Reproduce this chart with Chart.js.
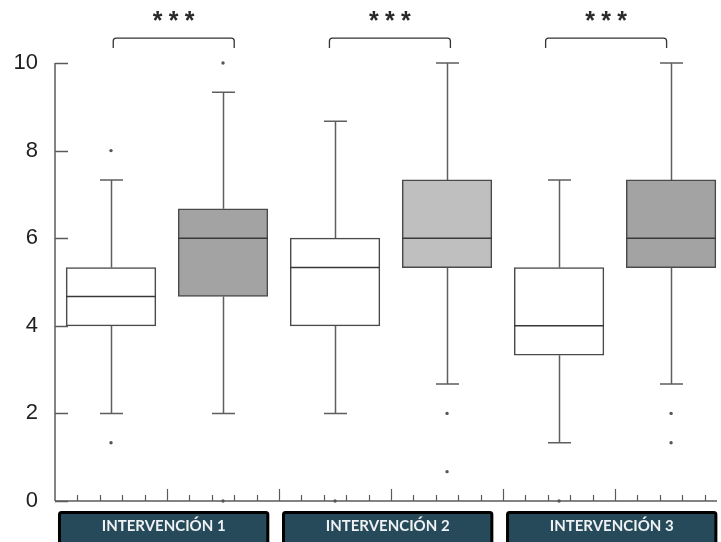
<!DOCTYPE html>
<html>
<head>
<meta charset="utf-8">
<script src="https://cdn.jsdelivr.net/npm/chart.js@4.4.1/dist/chart.umd.min.js"></script>
<style>
  html, body { margin: 0; padding: 0; background: #ffffff; }
  #wrap { width: 721px; height: 542px; }
</style>
</head>
<body>
<div id="wrap"><canvas id="c" width="721" height="542"></canvas></div>
<script>
// Groups and the two boxes drawn for each group
const groups = ['INTERVENCIÓN 1', 'INTERVENCIÓN 2', 'INTERVENCIÓN 3'];
const boxPositions = [0.5, 1.5, 2.5, 3.5, 4.5, 5.5];

// Five-number summaries per box
const whiskerLow  = [2.00, 2.00, 2.00, 2.67, 1.33, 2.67];
const q1          = [4.00, 4.67, 4.00, 5.33, 3.33, 5.33];
const median      = [4.67, 6.00, 5.33, 6.00, 4.00, 6.00];
const q3          = [5.33, 6.67, 6.00, 7.33, 5.33, 7.33];
const whiskerHigh = [7.33, 9.33, 8.67, 10.0, 7.33, 10.0];

// Outlying observations per box
const outliers = [[1.33, 8], [0, 10], [0], [0.67, 2], [0], [1.33, 2]];

// Axis tick labels and significance markers
const yTicks = [0, 2, 4, 6, 8, 10];
const significance = ['***', '***', '***'];

// Styling
const boxFill = ['#ffffff', '#a3a3a3', '#ffffff', '#bfbfbf', '#ffffff', '#a3a3a3'];
const brackets = [
  { from: 0.52, to: 1.60 },
  { from: 2.45, to: 3.53 },
  { from: 4.38, to: 5.46 }
];

const outlierPoints = [];
outliers.forEach((vals, i) => vals.forEach(v => outlierPoints.push({ x: boxPositions[i], y: v })));

const boxPlotPlugin = {
  id: 'boxPlotParts',
  beforeDatasetsDraw(chart) {
    const ctx = chart.ctx;
    const xs = chart.scales.x, ys = chart.scales.y;
    const area = chart.chartArea;
    const left = area.left, bottom = ys.getPixelForValue(0), top = ys.getPixelForValue(10);
    ctx.save();
    ctx.strokeStyle = '#5a5a5a';
    ctx.lineWidth = 1.5;
    // y axis
    ctx.beginPath();
    ctx.moveTo(left, top);
    ctx.lineTo(left, bottom);
    ctx.stroke();
    // x axis
    ctx.beginPath();
    ctx.moveTo(left, bottom);
    ctx.lineTo(area.right, bottom);
    ctx.stroke();
    // y ticks, inward
    ctx.fillStyle = '#1f1f1f';
    ctx.font = '22px "Liberation Sans", Arial, sans-serif';
    ctx.textAlign = 'right';
    ctx.textBaseline = 'middle';
    yTicks.forEach(t => {
      const y = Math.round(ys.getPixelForValue(t)) + 0.5;
      ctx.beginPath();
      ctx.moveTo(left, y);
      ctx.lineTo(left + 13, y);
      ctx.stroke();
      ctx.fillText(String(t), left - 17, y - 1);
    });
    // x ticks, inward
    ctx.lineWidth = 1.2;
    for (let k = 1; k * 0.2 < xs.max; k++) {
      const major = k % 5 === 0;
      const x = Math.round(xs.getPixelForValue(k * 0.2)) + 0.5;
      ctx.beginPath();
      ctx.moveTo(x, bottom);
      ctx.lineTo(x, bottom - (major ? 12 : 6));
      ctx.stroke();
    }
    // whiskers
    ctx.strokeStyle = '#5e5e5e';
    ctx.lineWidth = 1.5;
    boxPositions.forEach((p, i) => {
      const x = Math.round(xs.getPixelForValue(p)) + 0.5;
      const capHalf = 11.5;
      const yl = ys.getPixelForValue(whiskerLow[i]);
      const yq1 = ys.getPixelForValue(q1[i]);
      const yq3 = ys.getPixelForValue(q3[i]);
      const yh = ys.getPixelForValue(whiskerHigh[i]);
      ctx.beginPath();
      ctx.moveTo(x, yq1); ctx.lineTo(x, yl);
      ctx.moveTo(x - capHalf, yl); ctx.lineTo(x + capHalf, yl);
      ctx.moveTo(x, yq3); ctx.lineTo(x, yh);
      ctx.moveTo(x - capHalf, yh); ctx.lineTo(x + capHalf, yh);
      ctx.stroke();
    });
    ctx.restore();
  },
  afterDatasetsDraw(chart) {
    const ctx = chart.ctx;
    const xs = chart.scales.x, ys = chart.scales.y;
    const bottom = ys.getPixelForValue(0);
    ctx.save();
    // medians
    const meta = chart.getDatasetMeta(0);
    ctx.strokeStyle = '#383838';
    ctx.lineWidth = 1.5;
    meta.data.forEach((bar, i) => {
      const half = bar.width / 2;
      const y = ys.getPixelForValue(median[i]);
      ctx.beginPath();
      ctx.moveTo(bar.x - half, y);
      ctx.lineTo(bar.x + half, y);
      ctx.stroke();
    });
    // significance brackets
    ctx.strokeStyle = '#333333';
    ctx.lineWidth = 1.3;
    brackets.forEach((b, i) => {
      const x1 = xs.getPixelForValue(b.from), x2 = xs.getPixelForValue(b.to);
      const yTop = ys.getPixelForValue(10.57), yLeg = ys.getPixelForValue(10.34);
      ctx.beginPath();
      ctx.moveTo(x1, yLeg);
      ctx.arcTo(x1, yTop, x1 + 4, yTop, 3);
      ctx.arcTo(x2, yTop, x2, yTop + 4, 3);
      ctx.lineTo(x2, yLeg);
      ctx.stroke();
      // stars
      ctx.fillStyle = '#2a2a2a';
      ctx.font = 'bold 25px "Liberation Sans", Arial, sans-serif';
      ctx.textAlign = 'center';
      ctx.textBaseline = 'alphabetic';
      const m = ctx.measureText('*');
      const cy = ys.getPixelForValue(11.07);
      const base = cy - (m.actualBoundingBoxDescent - m.actualBoundingBoxAscent) / 2;
      const cx = (x1 + x2) / 2;
      const chars = significance[i].split('');
      const gap = 16;
      chars.forEach((ch, k) => {
        ctx.fillText(ch, cx + (k - (chars.length - 1) / 2) * gap, base);
      });
    });
    // group label boxes
    groups.forEach((g, i) => {
      const x1 = xs.getPixelForValue(2 * i + 0.04);
      const x2 = xs.getPixelForValue(2 * i + 1.9);
      const y1 = bottom + 11.5;
      const h = 45;
      ctx.fillStyle = '#264a59';
      ctx.strokeStyle = '#000000';
      ctx.lineWidth = 3;
      ctx.beginPath();
      ctx.roundRect(x1, y1, x2 - x1, h, 2);
      ctx.fill();
      ctx.stroke();
      ctx.fillStyle = '#eef2f4';
      ctx.font = 'bold 15px Lato, "Open Sans", sans-serif';
      ctx.textAlign = 'center';
      ctx.textBaseline = 'middle';
      ctx.fillText(g, (x1 + x2) / 2, y1 + 14);
    });
    ctx.restore();
  }
};

const chart = new Chart(document.getElementById('c'), {
  type: 'bar',
  data: {
    datasets: [
      {
        type: 'bar',
        data: boxPositions.map((x, i) => ({ x: x, y: [q1[i], q3[i]] })),
        backgroundColor: boxFill,
        borderColor: '#4a4a4a',
        borderWidth: 1.5,
        borderSkipped: false,
        barPercentage: 0.8,
        categoryPercentage: 1,
        order: 2
      },
      {
        type: 'scatter',
        data: outlierPoints,
        pointRadius: 1.7,
        pointBackgroundColor: '#555555',
        pointBorderWidth: 0,
        clip: false,
        order: 1
      }
    ]
  },
  options: {
    responsive: false,
    animation: false,
    layout: { padding: { left: 55, right: 3, top: 63, bottom: 41 } },
    scales: {
      x: { type: 'linear', min: 0, max: 5.91, offset: false, grid: { offset: false }, display: false },
      y: { type: 'linear', min: 0, max: 10, display: false }
    },
    plugins: {
      legend: { display: false },
      tooltip: { enabled: false }
    }
  },
  plugins: [boxPlotPlugin]
});

// Box width: 80% of the spacing between neighbouring boxes on the x scale
const xScale = chart.scales.x;
chart.data.datasets[0].barThickness = 0.8 * (xScale.getPixelForValue(1) - xScale.getPixelForValue(0));
chart.update();
</script>
</body>
</html>
